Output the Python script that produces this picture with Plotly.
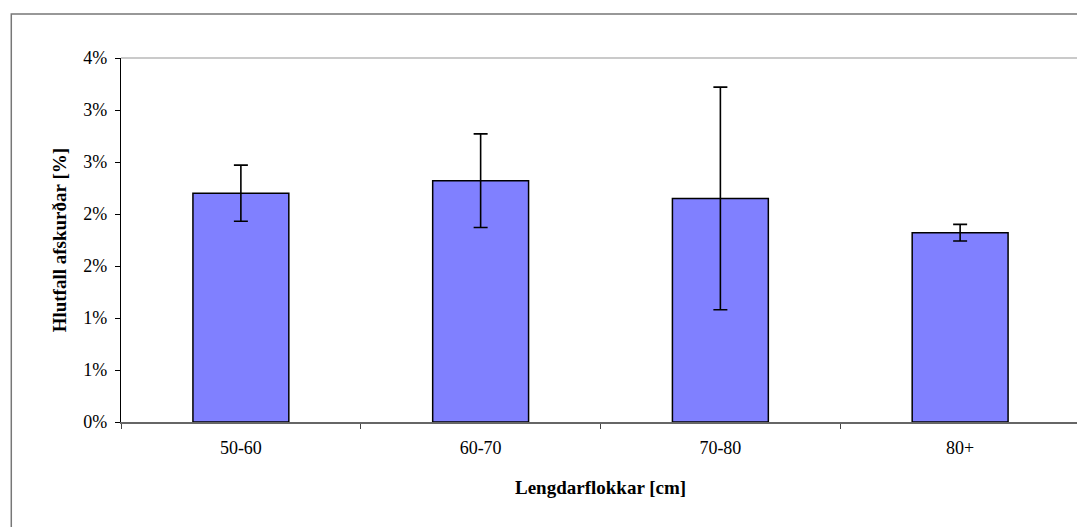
import plotly.graph_objects as go

categories = ["50-60", "60-70", "70-80", "80+"]
values = [0.0220, 0.0232, 0.0215, 0.0182]
errors = [0.0027, 0.0045, 0.0107, 0.0008]
y_tickvals = [0.0, 0.005, 0.010, 0.015, 0.020, 0.025, 0.030, 0.035]
y_ticktext = ["0%", "1%", "1%", "2%", "2%", "3%", "3%", "4%"]

FONT = "Liberation Serif, Times New Roman, serif"

fig = go.Figure()
fig.add_trace(go.Bar(
    x=categories,
    y=values,
    marker=dict(color="#8080FF", line=dict(color="black", width=1.5)),
    error_y=dict(type="data", array=errors, visible=True,
                 color="black", thickness=1.6, width=7),
    width=0.4,
))

fig.update_layout(
    width=1085, height=527,
    margin=dict(l=113, r=13, t=50, b=113),
    paper_bgcolor="white", plot_bgcolor="white",
    showlegend=False,
    font=dict(family=FONT, size=18, color="black"),
    xaxis=dict(
        showline=True, linecolor="#666666", linewidth=1.5,
        ticks="outside", ticklen=5, tickcolor="#444444", tickwidth=1,
        tickson="boundaries", showgrid=False, zeroline=False,
        tickfont=dict(family=FONT, size=18, color="black"),
        ticklabelstandoff=9,
    ),
    yaxis=dict(
        range=[0, 0.035],
        tickvals=y_tickvals, ticktext=y_ticktext,
        showline=True, linecolor="black", linewidth=1.2,
        ticks="outside", ticklen=5, tickcolor="black", tickwidth=1,
        showgrid=False, zeroline=False,
        tickfont=dict(family=FONT, size=18, color="black"),
        ticklabelstandoff=4,
    ),
    annotations=[
        dict(text="<b>Lengdarflokkar [cm]</b>", xref="paper", yref="paper",
             x=0.5, y=-0.181, xanchor="center", yanchor="middle",
             showarrow=False, font=dict(family=FONT, size=19, color="black")),
        dict(text="<b>Hlutfall afskurðar [%]</b>", xref="paper", yref="paper",
             x=-0.0643, y=0.5, xanchor="center", yanchor="middle",
             textangle=-90, showarrow=False,
             font=dict(family=FONT, size=19, color="black")),
    ],
    shapes=[
        dict(type="line", xref="paper", yref="paper", x0=0, x1=1, y0=1, y1=1,
             line=dict(color="#B8B8B8", width=1.5), layer="below"),
        dict(type="line", xref="paper", yref="paper", x0=1, x1=1, y0=0, y1=1,
             line=dict(color="#888888", width=1.5), layer="below"),
        dict(type="rect", xref="paper", yref="paper",
             x0=-0.1144, x1=1.03, y0=-0.35, y1=1.1209,
             line=dict(color="#777777", width=1.5), layer="below"),
    ],
)

fig.write_html("out.html")
